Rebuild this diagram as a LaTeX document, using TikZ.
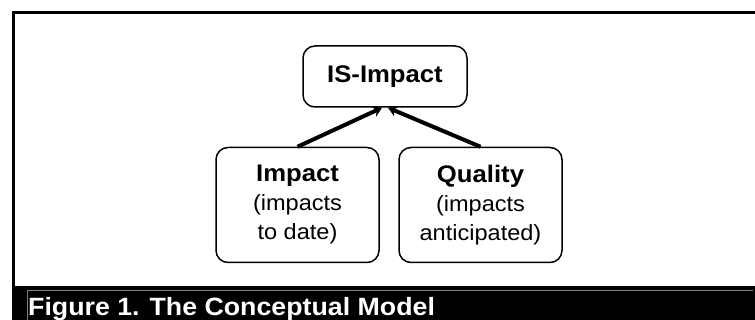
\documentclass[tikz,border=0pt]{standalone}
\usepackage{fontspec}
\setmainfont{Liberation Sans}[FakeStretch=1.07]
\usepackage{tikz}
\usetikzlibrary{arrows.meta}
\tikzstyle{block} = [draw, line width=1.5pt, rounded corners=12pt, align=center, inner sep=0pt]
\tikzstyle{arrow} = [line width=4pt, -{Stealth[length=9pt,width=11pt]}]
\newcommand{\boldtxt}{\fontsize{24}{28}\selectfont\bfseries}
\newcommand{\plaintxt}{\fontsize{22}{29}\selectfont}
\newcommand{\captxt}{\fontsize{25}{28}\selectfont\bfseries}

\begin{document}
\begin{tikzpicture}[x=1pt,y=-1pt]

\useasboundingbox (0,0) rectangle (755,320);

\draw[line width=3pt] (13,286) -- (13,13) -- (756,13);

\node[block, minimum width=164pt, minimum height=61pt, font=\boldtxt] (isimpact) at (385,76.5) {IS-Impact};

\node[block, minimum width=163pt, minimum height=115pt, font=\plaintxt] (impact) at (297.5,205) {{\boldtxt Impact}\\(impacts\\to date)};
\node[block, minimum width=163pt, minimum height=115pt, font=\plaintxt] (quality) at (480.5,205) {{\boldtxt Quality}\\(impacts\\anticipated)};

\draw[arrow] (impact.north) -- ([xshift=-3pt]isimpact.south);
\draw[arrow] (quality.north) -- ([xshift=3pt]isimpact.south);

\fill[black] (12,286) rectangle (755,320);
\draw[gray, line width=1pt] (27,321) -- (27,291) -- (753,291);
\node[anchor=base west, inner sep=0pt, text=white, font=\captxt] (caption) at (28,316) {Figure 1. The Conceptual Model};

\end{tikzpicture}
\end{document}
